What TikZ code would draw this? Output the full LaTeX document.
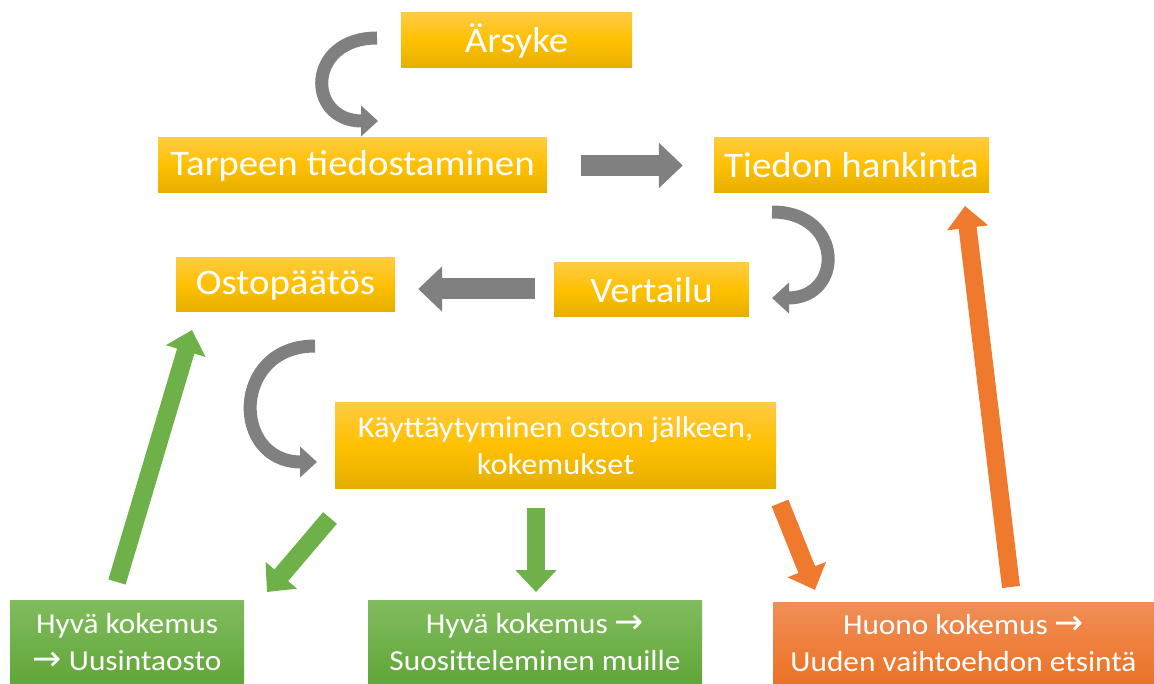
\documentclass[tikz,border=0pt]{standalone}
\usepackage{fontspec}
\setmainfont{Carlito}[FakeStretch=1.08]
\newfontfamily\arrowfont{DejaVu Sans}[Scale=1.2]
\usetikzlibrary{arrows.meta,positioning,calc}
\definecolor{boxtop}{RGB}{255,203,66}
\definecolor{boxmid}{RGB}{255,192,0}
\definecolor{boxbot}{RGB}{229,174,0}
\definecolor{greentop}{RGB}{129,188,94}
\definecolor{greenbot}{RGB}{96,166,56}
\definecolor{orangetop}{RGB}{241,142,86}
\definecolor{orangebot}{RGB}{235,114,36}
\definecolor{arrowgray}{RGB}{128,128,128}
\definecolor{arrowgreen}{RGB}{110,177,72}
\definecolor{arroworange}{RGB}{239,122,46}
\newcommand{\nuoli}{{\arrowfont\char"2192}}

\begin{document}
\begin{tikzpicture}[x=1pt,y=-1pt,
    stagebox/.style={text=white,inner sep=0pt,align=center},
    yellowbox/.style={stagebox,top color=boxtop,bottom color=boxbot,middle color=boxmid},
    greenbox/.style={stagebox,top color=greentop,bottom color=greenbot,
      font=\fontsize{29}{37}\selectfont},
    orangebox/.style={stagebox,top color=orangetop,bottom color=orangebot,
      font=\fontsize{29}{37}\selectfont},
    bigtext/.style={font=\fontsize{36}{40}\selectfont},
    curvearrow/.style={draw=arrowgray,line width=13pt,
      -{Triangle[length=17pt,width=30pt]}},
    grayblock/.style={draw=arrowgray,line width=21pt,
      -{Triangle[length=24pt,width=44pt]}},
    colorblock/.style={line width=18pt,-{Triangle[length=22pt,width=40pt]}}]
  \useasboundingbox (0,0) rectangle (1154,684);

  % vaiheet
  \node[yellowbox,bigtext,minimum width=231pt,minimum height=55pt] (arsyke) at (516.5,40.5) {Ärsyke};
  \node[yellowbox,bigtext,minimum width=389pt,minimum height=55pt] (tarve) at (352.5,165.5) {Tarpeen tiedostaminen};
  \node[yellowbox,bigtext,minimum width=275pt,minimum height=55pt] (tieto) at (851.5,165.5) {Tiedon hankinta};
  \node[yellowbox,bigtext,minimum width=195pt,minimum height=54pt] (vertailu) at (651.5,290) {Vertailu};
  \node[yellowbox,bigtext,minimum width=219pt,minimum height=54pt] (ostopaatos) at (285.5,285) {Ostopäätös};
  \node[yellowbox,font=\fontsize{30}{37}\selectfont,minimum width=441pt,minimum height=85pt] (kaytos) at (555.5,445.5)
    {Käyttäytyminen oston jälkeen,\\kokemukset};

  % kokemukset
  \node[greenbox,minimum width=234pt,minimum height=84pt] (uusinta) at (127,642)
    {Hyvä kokemus\\\nuoli{} Uusintaosto};
  \node[greenbox,minimum width=334pt,minimum height=84pt] (suositus) at (535,642)
    {Hyvä kokemus \nuoli\\Suositteleminen muille};
  \node[orangebox,minimum width=381pt,minimum height=82pt] (huono) at (963.5,643)
    {Huono kokemus \nuoli\\Uuden vaihtoehdon etsintä};

  % kaarinuolet
  \draw[curvearrow] (377,38) .. controls (306,38) and (306,121) .. (378,121);
  \draw[curvearrow] (772,212) .. controls (844,212) and (844,298) .. (772,298);
  \draw[curvearrow] (315,346) .. controls (231,346) and (231,462) .. (317,462);

  % suorat nuolet
  \draw[grayblock,shorten <=34pt,shorten >=31pt] (tarve.east) -- (tieto.west);
  \draw[grayblock,shorten <=19pt,shorten >=23pt] ($(vertailu.west)+(0,-1)$) -- ($(vertailu.west -| ostopaatos.east)+(0,-1)$);

  \coordinate (g1a) at (117,582);  \coordinate (g1b) at (192,330);
  \coordinate (g2a) at (330,518);  \coordinate (g2b) at (267,592);
  \coordinate (g3a) at (536,508);  \coordinate (g3b) at (536,592);
  \coordinate (o1a) at (780,503);  \coordinate (o1b) at (815,590);
  \coordinate (o2a) at (1011,587); \coordinate (o2b) at (965,206);
  \foreach \from/\to/\col in {g1a/g1b/arrowgreen,g2a/g2b/arrowgreen,g3a/g3b/arrowgreen,
                              o1a/o1b/arroworange,o2a/o2b/arroworange}
    \draw[colorblock,draw=\col] (\from) -- (\to);
\end{tikzpicture}
\end{document}
